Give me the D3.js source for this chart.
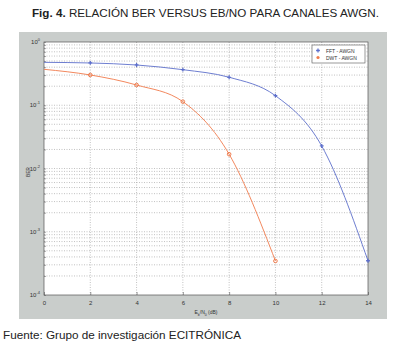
<!DOCTYPE html>
<html><head><meta charset="utf-8">
<script src="https://cdn.jsdelivr.net/npm/d3@7"></script>
<style>body{margin:0;background:#fff}svg{display:block}</style>
</head><body>
<script>
const ebno = [0, 2, 4, 6, 8, 10, 12, 14];
const berFFT = [0.477, 0.466, 0.433, 0.365, 0.277, 0.1416, 0.0227, 0.000348];
const ebnoDWT = [0, 2, 4, 6, 8, 10];
const berDWT = [0.370, 0.301, 0.209, 0.114, 0.0168, 0.000345];
const xTicks = [0, 2, 4, 6, 8, 10, 12, 14];
const yExp = [0, -1, -2, -3, -4];
const seriesNames = ["FFT - AWGN", "DWT - AWGN"];
const titleText = "Fig. 4. RELACIÓN BER VERSUS EB/NO PARA CANALES AWGN.";
const sourceText = "Fuente: Grupo de investigación ECITRÓNICA";

const W = 393, H = 348;
const svg = d3.select("body").append("svg").attr("width", W).attr("height", H);
const font = "Liberation Sans, Arial, sans-serif";

// title
const t = svg.append("text").attr("x", 32).attr("y", 16.5).attr("font-family", font)
  .attr("font-size", 11.5).attr("fill", "#222").attr("textLength", 347).attr("lengthAdjust", "spacingAndGlyphs");
t.append("tspan").attr("font-weight", "bold").text(titleText.slice(0, 7));
t.append("tspan").text(titleText.slice(7));

// gray panel
svg.append("rect").attr("x", 19).attr("y", 32).attr("width", 368).attr("height", 287).attr("fill", "#c9cdcb");

const L = 44, R = 368, T = 42, B = 295;
const x = d3.scaleLinear().domain([0, 14]).range([L, R]);
const y = d3.scaleLog().domain([1e-4, 1]).range([B, T]);

svg.append("rect").attr("x", L).attr("y", T).attr("width", R - L).attr("height", B - T).attr("fill", "#fff");

// grid
const g = svg.append("g");
const minor = [];
for (let e = -4; e < 0; e++) for (let m = 1; m <= 9; m++) minor.push(m * Math.pow(10, e));
g.selectAll(".hy").data(minor.filter(v => v > 1e-4)).join("line")
  .attr("x1", L).attr("x2", R).attr("y1", d => y(d)).attr("y2", d => y(d))
  .attr("stroke", "#999").attr("stroke-width", 0.6).attr("stroke-dasharray", "1,1.5");
g.selectAll(".vx").data(xTicks.slice(1, -1)).join("line")
  .attr("y1", T).attr("y2", B).attr("x1", d => x(d)).attr("x2", d => x(d))
  .attr("stroke", "#999").attr("stroke-width", 0.6).attr("stroke-dasharray", "1,1.5");

// frame
svg.append("rect").attr("x", L).attr("y", T).attr("width", R - L).attr("height", B - T)
  .attr("fill", "none").attr("stroke", "#555").attr("stroke-width", 0.7);

// axes ticks
const xa = d3.axisBottom(x).tickValues(xTicks).tickSize(-3).tickPadding(6);
const xg = svg.append("g").attr("transform", `translate(0,${B})`).call(xa);
xg.select(".domain").remove();
xg.selectAll("line").attr("stroke", "#555").attr("stroke-width", 0.6);
xg.selectAll("text").attr("font-family", font).attr("font-size", 6).attr("fill", "#333");

const ya = d3.axisLeft(y).tickValues(minor.concat([1])).tickSize(-2).tickFormat("");
const yg = svg.append("g").attr("transform", `translate(${L},0)`).call(ya);
yg.select(".domain").remove();
yg.selectAll("line").attr("stroke", "#555").attr("stroke-width", 0.5);

yExp.forEach(e => {
  const tt = svg.append("text").attr("x", 40).attr("y", y(Math.pow(10, e)) + 2)
    .attr("text-anchor", "end").attr("font-family", font).attr("font-size", 6).attr("fill", "#333");
  tt.append("tspan").text("10");
  tt.append("tspan").attr("dy", -3).attr("font-size", 4).text(String(e));
});

// axis labels
svg.append("text").attr("transform", `translate(30,172) rotate(-90)`).attr("text-anchor", "middle")
  .attr("font-family", font).attr("font-size", 4.5).attr("fill", "#333").text("BER");
const xl = svg.append("text").attr("x", 206).attr("y", 314).attr("text-anchor", "middle")
  .attr("font-family", font).attr("font-size", 5).attr("fill", "#333");
xl.append("tspan").text("E");
xl.append("tspan").attr("dy", 1.5).attr("font-size", 3.5).text("b");
xl.append("tspan").attr("dy", -1.5).text("/N");
xl.append("tspan").attr("dy", 1.5).attr("font-size", 3.5).text("0");
xl.append("tspan").attr("dy", -1.5).text(" (dB)");

// lines
const blue = "#5d6fcb", orange = "#f07b4c";
const line = d3.line().x(d => x(d[0])).y(d => y(d[1])).curve(d3.curveMonotoneX);
const fft = ebno.map((v, i) => [v, berFFT[i]]);
const dwt = ebnoDWT.map((v, i) => [v, berDWT[i]]);
svg.append("path").attr("d", line(fft)).attr("fill", "none").attr("stroke", blue).attr("stroke-width", 0.9);
svg.append("path").attr("d", line(dwt)).attr("fill", "none").attr("stroke", orange).attr("stroke-width", 0.9);

// markers
svg.selectAll(".mf").data(fft.filter(d => d[0] > 0)).join("path")
  .attr("transform", d => `translate(${x(d[0])},${y(d[1])})`)
  .attr("d", d3.symbol().type(d3.symbolCross).size(8)).attr("fill", blue);
svg.selectAll(".md").data(dwt.filter(d => d[0] > 0)).join("circle")
  .attr("cx", d => x(d[0])).attr("cy", d => y(d[1])).attr("r", 1.8)
  .attr("fill", "none").attr("stroke", orange).attr("stroke-width", 1);

// legend
svg.append("rect").attr("x", 312).attr("y", 45).attr("width", 53).attr("height", 18)
  .attr("fill", "#fff").attr("stroke", "#555").attr("stroke-width", 0.6);
svg.append("path").attr("transform", "translate(318,50.5)").attr("d", d3.symbol().type(d3.symbolCross).size(8)).attr("fill", blue);
svg.append("circle").attr("cx", 318).attr("cy", 57.5).attr("r", 1.6).attr("fill", orange);
seriesNames.forEach((n, i) => {
  svg.append("text").attr("x", 326).attr("y", 52.5 + i * 7).attr("font-family", font)
    .attr("font-size", 5).attr("fill", "#333").text(n);
});

// source
svg.append("text").attr("x", 3).attr("y", 339).attr("font-family", font).attr("font-size", 11.5)
  .attr("fill", "#222").attr("textLength", 238).attr("lengthAdjust", "spacingAndGlyphs").text(sourceText);
</script>
</body></html>
